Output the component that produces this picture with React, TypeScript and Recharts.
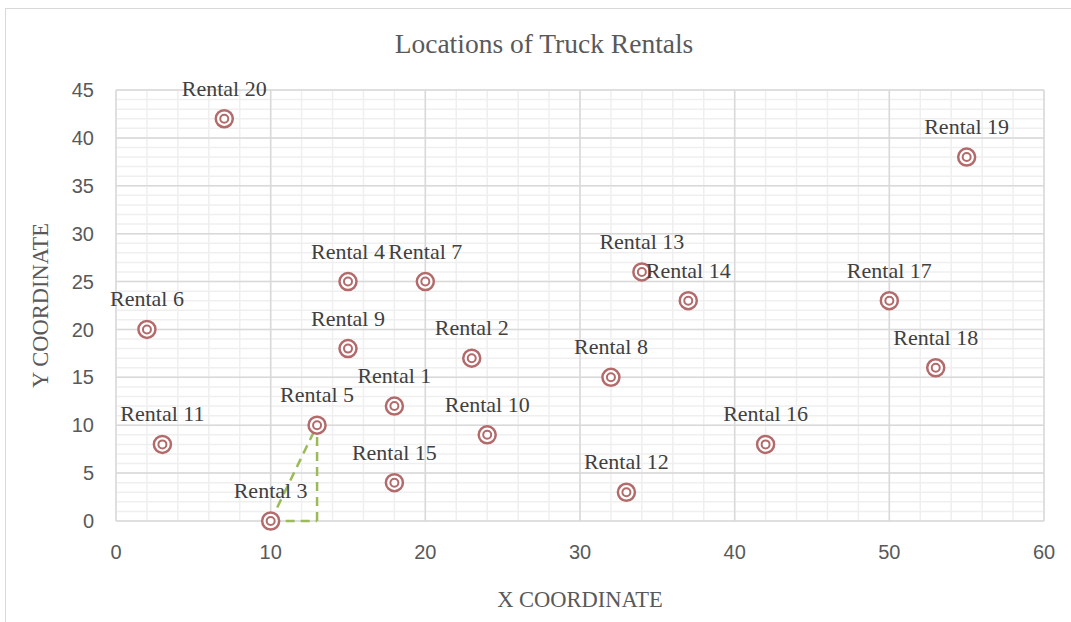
import React from "react";
import { ScatterChart, Scatter, XAxis, YAxis, CartesianGrid, LabelList, ReferenceLine, Label } from "recharts";

const rentals = [
  "Rental 1", "Rental 2", "Rental 3", "Rental 4", "Rental 5",
  "Rental 6", "Rental 7", "Rental 8", "Rental 9", "Rental 10",
  "Rental 11", "Rental 12", "Rental 13", "Rental 14", "Rental 15",
  "Rental 16", "Rental 17", "Rental 18", "Rental 19", "Rental 20",
];
const xCoord = [18, 23, 10, 15, 13, 2, 20, 32, 15, 24, 3, 33, 34, 37, 18, 42, 50, 53, 55, 7];
const yCoord = [12, 17, 0, 25, 10, 20, 25, 15, 18, 9, 8, 3, 26, 23, 4, 8, 23, 16, 38, 42];

const xTicks = [0, 10, 20, 30, 40, 50, 60];
const yTicks = [0, 5, 10, 15, 20, 25, 30, 35, 40, 45];
const xMinor = [0, 2, 4, 6, 8, 10, 12, 14, 16, 18, 20, 22, 24, 26, 28, 30, 32, 34, 36, 38, 40, 42, 44, 46, 48, 50, 52, 54, 56, 58, 60];
const yMinor = Array.from({ length: 46 }, (_, i) => i);

const data = rentals.map((name, i) => ({ name, x: xCoord[i], y: yCoord[i] }));

// triangle drawn between Rental 3 and Rental 5
const a = data[2];
const b = data[4];

const serif = "Liberation Serif, Times New Roman, serif";

const Marker = (props: any) => {
  const { cx, cy } = props;
  if (cx == null || cy == null) return null;
  return (
    <g>
      <circle cx={cx} cy={cy} r={8.5} fill="#fff" stroke="#b36a6b" strokeWidth={2.5} />
      <circle cx={cx} cy={cy} r={4} fill="#fff" stroke="#b36a6b" strokeWidth={2} />
    </g>
  );
};

const PointLabel = (p: any) => {
  const cx = p.x + (p.width || 0) / 2;
  const cy = p.y + (p.height || 0) / 2;
  return (
    <text x={cx} y={cy - 23} textAnchor="middle" fill="#404040" fontSize={22} fontFamily={serif}>
      {p.value}
    </text>
  );
};

const tickStyle = { fill: "#595959", fontSize: 20, fontFamily: "Liberation Sans, Arial, sans-serif" };
const titleStyle = { fill: "#595959", fontSize: 22.5, fontFamily: serif };

export default function App() {
  return (
    <div style={{ position: "absolute", left: 0, top: 0, width: 1071, height: 622, overflow: "hidden", background: "#fff" }}>
      <div style={{ position: "absolute", left: 5, top: 8, width: 1200, height: 800, border: "1px solid #d9d9d9" }} />
      <div
        style={{
          position: "absolute", left: 0, top: 28, width: 1088, textAlign: "center",
          fontFamily: serif, fontSize: 27.5, color: "#595959",
        }}
      >
        Locations of Truck Rentals
      </div>
      <div style={{ position: "absolute", left: 0, top: 0 }}>
        <ScatterChart width={1071} height={622} margin={{ top: 90, right: 27, bottom: 0, left: 0 }}>
          <CartesianGrid
            stroke="#efefef"
            strokeWidth={1.5}
            verticalCoordinatesGenerator={({ offset }: any) =>
              xMinor.map((v) => offset.left + (offset.width * v) / 60)
            }
            horizontalCoordinatesGenerator={({ offset }: any) =>
              yMinor.map((v) => offset.top + offset.height * (1 - v / 45))
            }
          />
          <CartesianGrid stroke="#d9d9d9" strokeWidth={1.5} />
          <XAxis
            type="number"
            dataKey="x"
            domain={[0, 60]}
            ticks={xTicks}
            height={101}
            axisLine={false}
            tickLine={false}
            tick={tickStyle}
            tickMargin={18}
          >
            <Label value="X COORDINATE" position="center" dy={28} style={titleStyle} />
          </XAxis>
          <YAxis
            type="number"
            dataKey="y"
            domain={[0, 45]}
            ticks={yTicks}
            width={116}
            axisLine={false}
            tickLine={false}
            tick={tickStyle}
            tickMargin={16}
          >
            <Label value="Y COORDINATE" position="center" angle={-90} dx={-18} style={titleStyle} />
          </YAxis>
          <ReferenceLine segment={[{ x: a.x, y: a.y }, { x: b.x, y: b.y }]} stroke="#9bbb59" strokeWidth={2.5} strokeDasharray="9 6" />
          <ReferenceLine segment={[{ x: a.x, y: a.y }, { x: b.x, y: a.y }]} stroke="#9bbb59" strokeWidth={2.5} strokeDasharray="9 6" />
          <ReferenceLine segment={[{ x: b.x, y: a.y }, { x: b.x, y: b.y }]} stroke="#9bbb59" strokeWidth={2.5} strokeDasharray="9 6" />
          <Scatter data={data} shape={<Marker />} isAnimationActive={false}>
            <LabelList dataKey="name" content={<PointLabel />} />
          </Scatter>
        </ScatterChart>
      </div>
    </div>
  );
}
